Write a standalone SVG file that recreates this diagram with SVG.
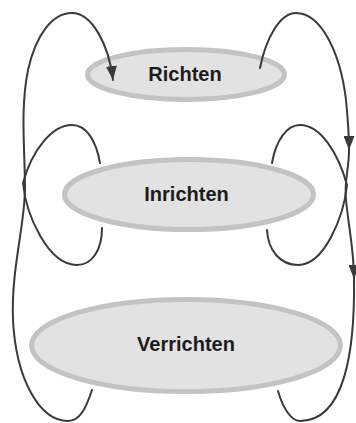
<svg xmlns="http://www.w3.org/2000/svg" width="356" height="423" viewBox="0 0 356 423">
  <defs>
    <marker id="arrow" markerUnits="userSpaceOnUse" markerWidth="14" markerHeight="11" refX="14" refY="5.5" orient="auto">
      <path d="M0,0 L14,5.5 L0,11 Z" fill="#3a3a3a"/>
    </marker>
  </defs>
  <style>
    .stage { fill: #e2e2e2; stroke: #c3c3c3; stroke-width: 5; }
    .label { font-family: "Liberation Sans", Arial, sans-serif; font-weight: bold; font-size: 20px; fill: #1c1c1c; text-anchor: middle; }
    .flow { fill: none; stroke: #3a3a3a; stroke-width: 2; stroke-linecap: round; }
    .flow.head { marker-end: url(#arrow); }
  </style>
  <rect width="356" height="423" fill="#ffffff"/>

  <g id="richten">
    <ellipse class="stage" cx="186" cy="74.5" rx="98.5" ry="25"/>
    <text class="label" x="185" y="80.5">Richten</text>
  </g>
  <g id="inrichten">
    <ellipse class="stage" cx="189" cy="194.5" rx="124.5" ry="35"/>
    <text class="label" x="186.5" y="200.5">Inrichten</text>
  </g>
  <g id="verrichten">
    <ellipse class="stage" cx="186" cy="345.5" rx="154.5" ry="46"/>
    <text class="label" x="186" y="350.5">Verrichten</text>
  </g>

  <g id="connectors">
    <!-- Verrichten back up the left side into Richten -->
    <path class="flow head" d="M 92 390 C 86 408, 80 421, 68 421 C 40 421, 16 380, 13 320 C 11 270, 24 230, 25 190 C 25 150, 20 110, 28 70 C 36 35, 52 13, 72 13 C 92 13, 109 45, 113 80"/>
    <!-- loop around the left end of Inrichten, pointed where it crosses the long line -->
    <path class="flow" d="M 100 163 C 96 140, 86 125, 72 125 C 52 125, 32 150, 23 183 C 26 215, 48 265, 77 265 C 92 265, 102 250, 102 228"/>
    <!-- Richten down the right side to Verrichten -->
    <path class="flow head" d="M 260 68 C 266 38, 280 13, 296 13 C 320 13, 340 50, 346 100 C 348 120, 349 135, 349 150"/>
    <path class="flow head" d="M 349 150 C 349 170, 344 180, 346 200 C 349 230, 354 250, 354 279"/>
    <path class="flow" d="M 354 279 C 355 350, 345 421, 300 421 C 290 421, 282 405, 278 391"/>
    <!-- loop around the right end of Inrichten, pointed where it crosses the long line -->
    <path class="flow" d="M 272 163 C 276 140, 287 125, 300 125 C 320 125, 338 152, 347 185 C 344 215, 325 265, 298 265 C 280 265, 268 250, 267 230"/>
  </g>
</svg>
